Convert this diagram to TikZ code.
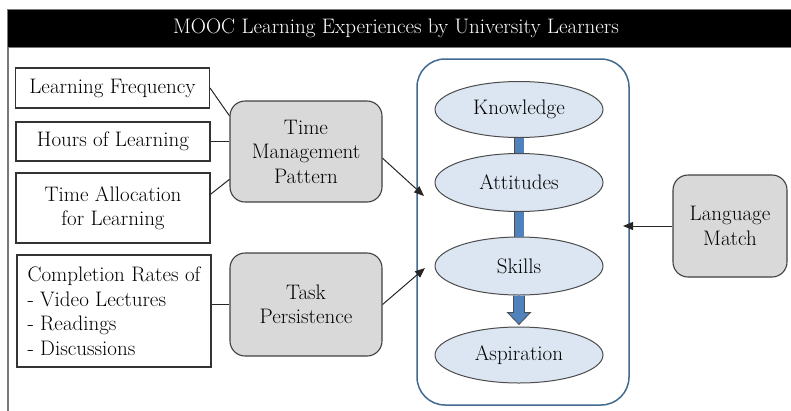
\documentclass[tikz,border=0pt]{standalone}
\usetikzlibrary{arrows.meta,shapes.geometric,calc}

\definecolor{framegray}{RGB}{120,120,120}
\definecolor{boxgray}{RGB}{217,217,217}
\definecolor{ovalblue}{RGB}{220,230,242}
\definecolor{barblue}{RGB}{79,129,189}
\definecolor{groupblue}{RGB}{65,105,145}

\tikzset{
  measure/.style={draw=black!80, line width=1.1pt, fill=white, minimum width=194pt, align=center, inner sep=4pt},
  factor/.style={draw=black!75, line width=1.1pt, fill=boxgray, rounded corners=15pt, minimum width=152pt, align=center},
  outcome/.style={ellipse, draw=black!70, line width=1pt, fill=ovalblue, minimum width=168pt, minimum height=56pt, inner sep=0pt},
  link/.style={black!85, line width=1pt},
  effect/.style={link, -{Triangle[length=10pt,width=8pt]}},
  stage/.style={draw=black!70, line width=0.8pt, double=barblue, double distance=9pt}
}

\begin{document}
\begin{tikzpicture}[x=1pt, y=-1pt, font=\fontsize{21}{24.5}\selectfont]

\useasboundingbox (0,0) rectangle (791,410);

% title bar and left frame
\draw[fill=black, draw=framegray, line width=1pt] (7,9) rectangle (795,47);
\node[text=white] (title) at (396,28) {MOOC Learning Experiences by University Learners};
\draw[framegray, line width=1.5pt] (8,47) -- (8,412);

% measured indicators
\node[measure, minimum height=40pt] (lf) at (112.5,88) {Learning Frequency};
\node[measure, minimum height=39pt] (hours) at (113,141.5) {Hours of Learning};
\node[measure, minimum height=70pt] (ta) at (113,208) {Time Allocation\\for Learning};
\node[measure, minimum height=112pt, align=left] (comp) at (114,311) {Completion Rates of\\- Video Lectures\\- Readings\\- Discussions};

% learning behaviour factors
\node[factor, minimum height=101pt] (tmp) at (306,151.5) {Time\\Management\\Pattern};
\node[factor, minimum height=103pt] (tp) at (306,304.5) {Task\\Persistence};
\node[factor, minimum width=114pt, minimum height=102pt] (lm) at (730,226) {Language\\Match};

% group of learning experiences
\node[draw=groupblue, line width=1.5pt, rounded corners=28pt, minimum width=212pt, minimum height=346pt] (group) at (523,232) {};

\node[outcome] (know) at (519,109.5) {Knowledge};
\node[outcome, minimum height=58pt] (att) at (519,182.5) {Attitudes};
\node[outcome, minimum height=58pt] (sk) at (519,266) {Skills};
\node[outcome] (asp) at (519,355) {Aspiration};

% bars between the outcomes
\draw[stage] (know) -- (att);
\draw[stage] (att) -- (sk);
\draw[draw=black!70, line width=0.8pt, fill=barblue] ($(sk.south)+(-5.5,0)$) -- ($(asp.north)+(-5.5,-14)$) -- ($(asp.north)+(-11.5,-14)$) -- ($(asp.north)+(0,-2)$) -- ($(asp.north)+(11.5,-14)$) -- ($(asp.north)+(5.5,-14)$) -- ($(sk.south)+(5.5,0)$);

% ends of the arrows inside the group
\coordinate (inA) at (424,196);
\coordinate (inB) at (425,268);
\coordinate (inC) at (623,226);

% indicators to factors
\draw[link] (lf.east) -- (tmp.155);
\draw[link] (hours.east) -- (hours.east -| tmp.west);
\draw[link] (ta.8) -- (tmp.200);
\draw[link] (tp.west) -- (comp.east |- tp.west);

% factors to experiences
\draw[effect] (tmp.-5) -- (inA);
\draw[effect] (tp.east) -- (inB);
\draw[effect] (lm.west) -- (inC);

\end{tikzpicture}
\end{document}
